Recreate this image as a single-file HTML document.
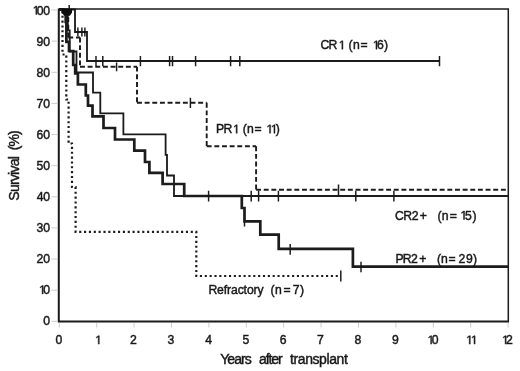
<!DOCTYPE html>
<html><head><meta charset="utf-8"><title>Survival after transplant</title>
<style>
html,body{margin:0;padding:0;background:#fff;}
svg{display:block;}
text{font-family:"Liberation Sans",sans-serif;fill:#1a1a1a;stroke:#1a1a1a;stroke-width:0.45px;}
</style></head><body>
<svg width="520" height="371" viewBox="0 0 520 371">
<defs><filter id="b" x="0" y="0" width="520" height="371" filterUnits="userSpaceOnUse"><feGaussianBlur stdDeviation="0.5"/></filter></defs>
<rect width="520" height="371" fill="#fff"/>
<g filter="url(#b)">
<g fill="none" stroke="#1a1a1a" stroke-linejoin="miter" stroke-linecap="butt">
<path d="M59.3,323 V327.5 M96.7,323 V327.5 M134.1,323 V327.5 M171.5,323 V327.5 M208.9,323 V327.5 M246.3,323 V327.5 M283.7,323 V327.5 M321.1,323 V327.5 M358.5,323 V327.5 M395.9,323 V327.5 M433.3,323 V327.5 M470.7,323 V327.5 M508.1,323 V327.5 M51.5,321.3 H57 M51.5,290.2 H57 M51.5,259.0 H57 M51.5,227.9 H57 M51.5,196.8 H57 M51.5,165.7 H57 M51.5,134.5 H57 M51.5,103.4 H57 M51.5,72.3 H57 M51.5,41.1 H57 M51.5,10.0 H57" stroke="#cccccc" stroke-width="1"/>
<path d="M59,9 H508.3 V322" stroke-width="1.5"/>
<path d="M58.8,8.4 V321.5 H508.9" stroke-width="2"/>
<path d="M59.0,9.5 L62.5,9.5 L62.5,54.5 L66.3,54.5 L66.3,99.5 L68.6,99.5 L68.6,143.5 L72.0,143.5 L72.0,187.0 L75.6,187.0 L75.6,231.8 L196.3,231.8 L196.3,276.0 L340.8,276.0" stroke-width="2.2" stroke-dasharray="2.1 2.75"/>
<path d="M59.0,9.5 L68.3,9.5 M68.3,9.5 L68.3,37.5 M68.3,37.5 L80.0,37.5 M80.0,37.5 L80.0,66.7 M80.0,66.7 L137.0,66.7 M137.0,66.7 L137.0,102.8 M137.0,102.8 L206.7,102.8 M206.7,102.8 L206.7,146.3 M206.7,146.3 L256.1,146.3 M256.1,146.3 L256.1,189.8 M256.1,189.8 L507.5,189.8" stroke-width="1.9" stroke-dasharray="4.9 2.75"/>
<path d="M59.0,9.5 L75.0,9.5 L75.0,32.0 L87.0,32.0 L87.0,61.0 L439.5,61.0" stroke-width="1.8"/>
<path d="M59.0,9.5 L67.8,9.5 L67.8,30.3 L69.7,30.3 L69.7,51.5 L76.5,51.5 L76.5,72.5 L93.0,72.5 L93.0,92.7 L100.3,92.7 L100.3,113.3 L123.4,113.3 L123.4,134.3 L165.6,134.3 L165.6,154.8 L167.0,154.8 L167.0,175.5 L174.0,175.5 L174.0,196.0 L508.0,196.0" stroke-width="1.8"/>
<path d="M59.0,9.5 L63.0,9.5 L63.0,12.5 L65.7,12.5 L65.7,22.0 L66.4,22.0 L66.4,41.8 L69.0,41.8 L69.0,51.0 L73.2,51.0 L73.2,65.0 L75.2,65.0 L75.2,73.3 L77.9,73.3 L77.9,84.5 L85.8,84.5 L85.8,95.5 L88.0,95.5 L88.0,105.6 L92.5,105.6 L92.5,116.3 L103.5,116.3 L103.5,128.0 L115.0,128.0 L115.0,139.5 L134.3,139.5 L134.3,150.7 L145.0,150.7 L145.0,162.0 L149.4,162.0 L149.4,172.9 L162.6,172.9 L162.6,184.0 L184.2,184.0 L184.2,196.0 L241.8,196.0 L241.8,208.0 L244.5,208.0 L244.5,221.3 L260.3,221.3 L260.3,234.6 L278.7,234.6 L278.7,248.9 L352.9,248.9 L352.9,266.6 L508.0,266.6" stroke-width="2.7"/>
<path d="M69.2,5.0 V13.5 M77.9,27.5 V36.5 M81.9,27.5 V36.5 M84.9,27.5 V36.5 M96.0,56.0 V66.3 M102.8,56.0 V66.3 M140.4,56.0 V66.3 M169.6,56.0 V66.3 M172.5,56.0 V66.3 M195.6,56.0 V66.3 M230.6,56.0 V66.3 M239.8,56.0 V66.3 M439.5,56.0 V66.3 M116.6,62.5 V71.2 M190.4,97.7 V107.9 M338.5,184.6 V195.0 M208.6,190.8 V201.5 M251.2,190.8 V201.5 M258.6,190.8 V201.5 M278.4,190.8 V201.5 M355.8,190.8 V201.5 M393.9,190.8 V201.5 M244.5,221.0 V226.5 M290.2,244.0 V254.8 M361.0,261.7 V272.3 M340.8,270.4 V281.5" stroke-width="1.45"/>
<path d="M42.12,293.95 L42.12,286.58 L40.22,287.94 L40.22,286.92 L42.21,285.56 L43.20,285.56 L43.20,293.95Z M35.82,14.50 L35.82,7.13 L33.92,8.49 L33.92,7.47 L35.91,6.11 L36.90,6.11 L36.90,14.50Z M98.22,344.10 L98.22,336.73 L96.32,338.09 L96.32,337.07 L98.31,335.71 L99.30,335.71 L99.30,344.10Z M430.62,344.10 L430.62,336.73 L428.72,338.09 L428.72,337.07 L430.71,335.71 L431.70,335.71 L431.70,344.10Z M469.22,344.10 L469.22,336.73 L467.32,338.09 L467.32,337.07 L469.31,335.71 L470.30,335.71 L470.30,344.10Z M474.02,344.10 L474.02,336.73 L472.12,338.09 L472.12,337.07 L474.11,335.71 L475.10,335.71 L475.10,344.10Z M505.12,344.10 L505.12,336.73 L503.22,338.09 L503.22,337.07 L505.21,335.71 L506.20,335.71 L506.20,344.10Z M341.82,49.20 L341.82,41.83 L339.92,43.19 L339.92,42.17 L341.91,40.81 L342.90,40.81 L342.90,49.20Z M375.92,49.20 L375.92,41.83 L374.02,43.19 L374.02,42.17 L376.01,40.81 L377.00,40.81 L377.00,49.20Z M236.12,133.20 L236.12,125.83 L234.22,127.19 L234.22,126.17 L236.21,124.81 L237.20,124.81 L237.20,133.20Z M269.52,133.20 L269.52,125.83 L267.62,127.19 L267.62,126.17 L269.61,124.81 L270.60,124.81 L270.60,133.20Z M273.92,133.20 L273.92,125.83 L272.02,127.19 L272.02,126.17 L274.01,124.81 L275.00,124.81 L275.00,133.20Z M463.52,219.50 L463.52,212.13 L461.62,213.49 L461.62,212.47 L463.61,211.11 L464.60,211.11 L464.60,219.50Z" fill="#1a1a1a" stroke="#1a1a1a" stroke-width="0.45"/>
<path d="M62,9 H72 V12.5 L70,15.8 H64 L62,12.5 Z" fill="#111" stroke="none"/>
</g>
<text x="43.2" y="325.0" font-size="12.2" text-anchor="start">0</text>
<text x="43.2" y="293.9" font-size="12.2" text-anchor="start">0</text>
<text x="36.4" y="262.9" font-size="12.2" text-anchor="start">2</text>
<text x="43.2" y="262.9" font-size="12.2" text-anchor="start">0</text>
<text x="36.5" y="231.8" font-size="12.2" text-anchor="start">3</text>
<text x="43.2" y="231.8" font-size="12.2" text-anchor="start">0</text>
<text x="36.7" y="200.8" font-size="12.2" text-anchor="start">4</text>
<text x="43.2" y="200.8" font-size="12.2" text-anchor="start">0</text>
<text x="36.5" y="169.8" font-size="12.2" text-anchor="start">5</text>
<text x="43.2" y="169.8" font-size="12.2" text-anchor="start">0</text>
<text x="36.4" y="138.7" font-size="12.2" text-anchor="start">6</text>
<text x="43.2" y="138.7" font-size="12.2" text-anchor="start">0</text>
<text x="36.4" y="107.7" font-size="12.2" text-anchor="start">7</text>
<text x="43.2" y="107.7" font-size="12.2" text-anchor="start">0</text>
<text x="36.5" y="76.6" font-size="12.2" text-anchor="start">8</text>
<text x="43.2" y="76.6" font-size="12.2" text-anchor="start">0</text>
<text x="36.4" y="45.6" font-size="12.2" text-anchor="start">9</text>
<text x="43.2" y="45.6" font-size="12.2" text-anchor="start">0</text>
<text x="36.7" y="14.5" font-size="12.2" text-anchor="start">0</text>
<text x="43.2" y="14.5" font-size="12.2" text-anchor="start">0</text>
<text x="55.4" y="344.1" font-size="12.2" text-anchor="start">0</text>
<text x="130.1" y="344.1" font-size="12.2" text-anchor="start">2</text>
<text x="167.6" y="344.1" font-size="12.2" text-anchor="start">3</text>
<text x="205.2" y="344.1" font-size="12.2" text-anchor="start">4</text>
<text x="242.4" y="344.1" font-size="12.2" text-anchor="start">5</text>
<text x="279.7" y="344.1" font-size="12.2" text-anchor="start">6</text>
<text x="317.1" y="344.1" font-size="12.2" text-anchor="start">7</text>
<text x="354.6" y="344.1" font-size="12.2" text-anchor="start">8</text>
<text x="391.9" y="344.1" font-size="12.2" text-anchor="start">9</text>
<text x="431.8" y="344.1" font-size="12.2" text-anchor="start">0</text>
<text x="505.9" y="344.1" font-size="12.2" text-anchor="start">2</text>
<text x="320.5" y="49.2" font-size="12.2" text-anchor="start">C</text>
<text x="328.4" y="49.2" font-size="12.2" text-anchor="start">R</text>
<text x="348.6" y="49.2" font-size="12.2" text-anchor="start">(</text>
<text x="352.9" y="49.2" font-size="12.2" text-anchor="start">n</text>
<text x="360.6" y="49.2" font-size="12.2" text-anchor="start">=</text>
<text x="376.9" y="49.2" font-size="12.2" text-anchor="start">6</text>
<text x="384.1" y="49.2" font-size="12.2" text-anchor="start">)</text>
<text x="216.1" y="133.2" font-size="12.2" text-anchor="start">P</text>
<text x="223.4" y="133.2" font-size="12.2" text-anchor="start">R</text>
<text x="242.8" y="133.2" font-size="12.2" text-anchor="start">(</text>
<text x="247.0" y="133.2" font-size="12.2" text-anchor="start">n</text>
<text x="254.6" y="133.2" font-size="12.2" text-anchor="start">=</text>
<text x="275.7" y="133.2" font-size="12.2" text-anchor="start">)</text>
<text x="394.9" y="219.5" font-size="12.2" text-anchor="start">C</text>
<text x="403.2" y="219.5" font-size="12.2" text-anchor="start">R</text>
<text x="411.8" y="219.5" font-size="12.2" text-anchor="start">2</text>
<text x="419.8" y="219.5" font-size="12.2" text-anchor="start">+</text>
<text x="437.6" y="219.5" font-size="12.2" text-anchor="start">(</text>
<text x="441.8" y="219.5" font-size="12.2" text-anchor="start">n</text>
<text x="449.7" y="219.5" font-size="12.2" text-anchor="start">=</text>
<text x="464.9" y="219.5" font-size="12.2" text-anchor="start">5</text>
<text x="472.5" y="219.5" font-size="12.2" text-anchor="start">)</text>
<text x="395.4" y="262.6" font-size="12.2" text-anchor="start">P</text>
<text x="402.7" y="262.6" font-size="12.2" text-anchor="start">R</text>
<text x="411.1" y="262.6" font-size="12.2" text-anchor="start">2</text>
<text x="419.3" y="262.6" font-size="12.2" text-anchor="start">+</text>
<text x="437.1" y="262.6" font-size="12.2" text-anchor="start">(</text>
<text x="440.9" y="262.6" font-size="12.2" text-anchor="start">n</text>
<text x="448.6" y="262.6" font-size="12.2" text-anchor="start">=</text>
<text x="458.6" y="262.6" font-size="12.2" text-anchor="start">2</text>
<text x="465.9" y="262.6" font-size="12.2" text-anchor="start">9</text>
<text x="473.0" y="262.6" font-size="12.2" text-anchor="start">)</text>
<text x="208.4" y="294.0" font-size="12.2" text-anchor="start" textLength="55.2" lengthAdjust="spacing">Refractory</text>
<text x="270.5" y="294.0" font-size="12.2" text-anchor="start">(</text>
<text x="274.9" y="294.0" font-size="12.2" text-anchor="start">n</text>
<text x="283.4" y="294.0" font-size="12.2" text-anchor="start">=</text>
<text x="292.8" y="294.0" font-size="12.2" text-anchor="start">7</text>
<text x="300.1" y="294.0" font-size="12.2" text-anchor="start">)</text>
<text x="220.2" y="363.7" font-size="14" text-anchor="start" textLength="31.5" lengthAdjust="spacing">Years</text>
<text x="259.0" y="363.7" font-size="14" text-anchor="start" textLength="23.7" lengthAdjust="spacing">after</text>
<text x="290.0" y="363.7" font-size="14" text-anchor="start" textLength="57.9" lengthAdjust="spacing">transplant</text>
<g transform="translate(19.3,200.7) rotate(-90)"><text x="0" y="0" font-size="14" textLength="44.5" lengthAdjust="spacing">Survival</text><text x="50.5" y="0" font-size="14" textLength="19.8" lengthAdjust="spacing">(%)</text></g>
</g>
</svg>
</body></html>
